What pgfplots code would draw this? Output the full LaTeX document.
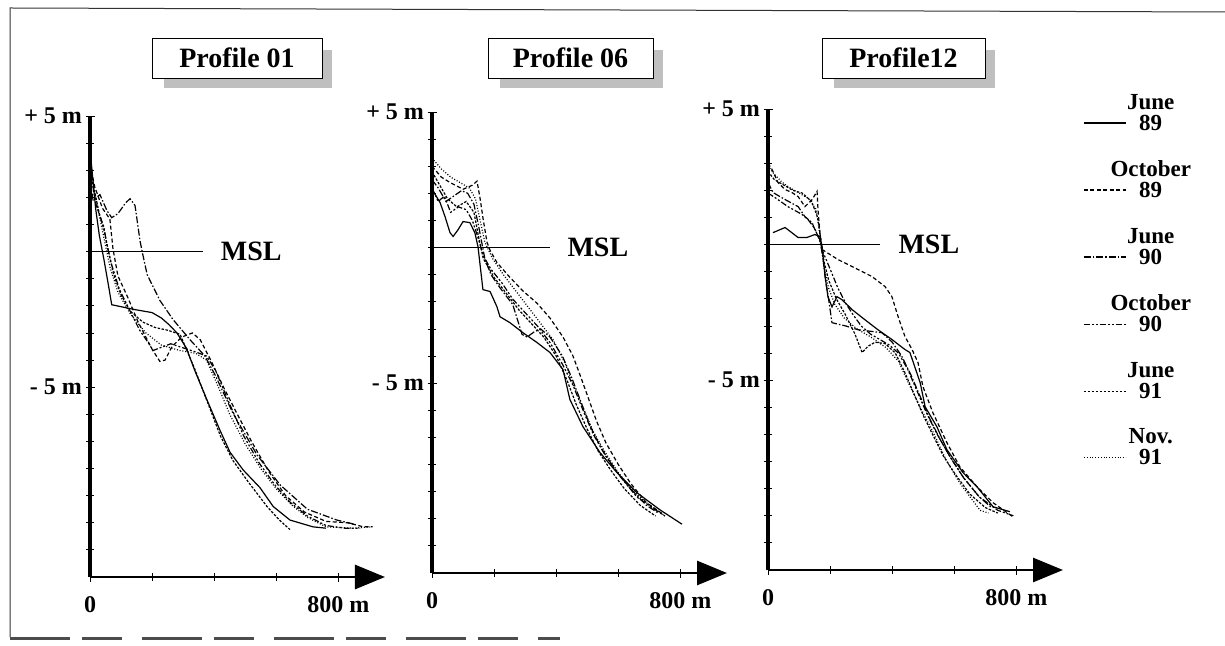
\documentclass[border=0pt]{standalone}
\usepackage{pgfplots}
\pgfplotsset{compat=1.18}
\usepackage{fontspec}
\setmainfont{Liberation Serif}
\usetikzlibrary{arrows.meta}
\pgfplotsset{
  prof/.style={
    scale only axis, width=295pt, height=461pt,
    xmin=0, xmax=950, ymin=-12, ymax=5,
    axis x line=bottom, axis y line=left,
    x axis line style={line width=2.8pt, -{Triangle[length=30pt,width=24pt]}},
    y axis line style={line width=3.2pt, -},
    xtick={0,800}, xticklabels={0,800 m},
    minor xtick={200,400,600},
    ytick={-5,5}, yticklabels={- 5 m,+ 5 m},
    minor ytick={-11,...,4},
    tick align=center,
    major tick length=9pt, minor tick length=8pt,
    tick style={black, line width=0.8pt},
    tick label style={font=\fontsize{24}{26}\selectfont\bfseries},
    xticklabel style={yshift=-12pt},
    clip=false,
    every axis plot/.append style={line width=1.2pt, black},
  },
  s1/.style={solid},
  s2/.style={dash pattern=on 4pt off 2.5pt},
  s3/.style={dash pattern=on 7pt off 2pt on 1.5pt off 2pt},
  s4/.style={dash pattern=on 6pt off 2pt on 2pt off 2pt on 2pt off 2pt},
  s5/.style={dash pattern=on 2.5pt off 1.5pt},
  s6/.style={dash pattern=on 1pt off 1.8pt},
  msl/.style={solid, line width=1.8pt, forget plot},
}
\newcommand{\lab}{\fontsize{28}{30}\selectfont\bfseries}
\begin{document}
\begin{tikzpicture}
\useasboundingbox (0pt,0pt) rectangle (1225pt,645pt);
% frame
\draw[line width=1pt, black!80] (10pt,8pt) -- (10pt,637pt) -- (1225pt,633pt);
\draw[line width=3pt, black!70, dash pattern=on 60pt off 12pt on 40pt off 20pt] (10pt,7pt) -- (560pt,7pt);
% ---------------- Profile 01
\begin{axis}[prof, at={(90pt,68pt)}, anchor=south west]
\addplot[msl] coordinates {(0,0) (365,0)};
\node[anchor=west, font=\lab] at (axis cs:410,0) {MSL};
\addplot[s1] coordinates {(0,3.8) (8,2.8) (18,1.6) (30,0.6) (45,-0.3) (58,-1.15) (70,-1.96) (145,-2.14) (200,-2.25) (230,-2.45) (255,-2.7) (280,-3.0) (310,-3.55) (338,-4.4) (376,-5.45) (419,-6.6) (451,-7.4) (493,-8.05) (547,-8.7) (590,-9.4) (644,-9.9) (718,-10.15) (760,-10.2)};
\addplot[s2] coordinates {(0,3.2) (15,2.4) (40,1.6) (64,1.2) (74,0.1) (90,-0.9) (122,-1.7) (155,-2.6) (200,-3.6) (225,-4.05) (242,-4.0) (264,-3.5) (296,-3.15) (330,-3.0) (355,-3.25) (393,-4.1) (430,-5.0) (470,-5.9) (520,-7.0) (575,-8.1) (630,-9.0) (690,-9.6) (760,-9.95) (830,-10.0) (880,-10.15) (910,-10.15)};
\addplot[s3] coordinates {(0,2.6) (10,1.9) (32,2.1) (55,1.5) (70,1.25) (90,1.4) (115,1.8) (129,1.95) (145,1.7) (161,0.4) (168,0) (184,-0.85) (225,-1.8) (267,-2.5) (322,-3.25) (370,-3.85) (403,-4.55) (460,-5.95) (538,-7.5) (612,-8.6) (700,-9.5) (795,-9.9) (850,-10.05)};
\addplot[s4] coordinates {(0,3.0) (20,1.7) (45,0.9) (55,0.2) (70,-0.5) (95,-1.4) (125,-2.1) (160,-2.9) (190,-3.4) (203,-3.65) (225,-3.55) (260,-3.4) (300,-3.55) (340,-3.7) (375,-3.85) (405,-4.4) (445,-5.5) (495,-6.8) (545,-7.8) (595,-8.6) (645,-9.25) (700,-9.75) (760,-10.1) (820,-10.2) (870,-10.2)};
\addplot[s5] coordinates {(0,3.3) (15,2.2) (30,1.4) (45,0.8) (60,0) (75,-0.8) (100,-1.6) (130,-2.2) (170,-2.6) (210,-2.8) (250,-2.9) (290,-3.05) (338,-4.35) (380,-5.6) (420,-6.8) (460,-7.7) (510,-8.5) (570,-9.4) (610,-9.9) (644,-10.25)};
\addplot[s6] coordinates {(0,3.6) (10,2.5) (25,1.6) (45,0.5) (65,-0.6) (90,-1.5) (130,-2.3) (180,-3.0) (230,-3.45) (290,-3.65) (340,-3.75) (375,-4.0) (410,-4.9) (450,-6.0) (500,-7.1) (550,-8.0) (600,-8.75) (650,-9.35) (700,-9.8) (760,-10.15) (850,-10.2) (908,-10.15)};
\end{axis}
% ---------------- Profile 06
\begin{axis}[prof, at={(432pt,72pt)}, anchor=south west]
\addplot[msl] coordinates {(0,0) (380,0)};
\node[anchor=west, font=\lab] at (axis cs:425,0) {MSL};
\addplot[s1] coordinates {(8,2.0) (26,1.66) (42,1.14) (58,0.55) (68,0.41) (84,0.66) (100,0.96) (122,0.92) (138,0.55) (148,0.04) (161,-1.25) (164,-1.55) (187,-1.62) (209,-2.18) (219,-2.55) (251,-2.77) (293,-3.14) (338,-3.5) (380,-3.87) (422,-4.5) (444,-5.6) (486,-6.6) (541,-7.56) (596,-8.3) (660,-9.04) (734,-9.67) (805,-10.2)};
\addplot[s2] coordinates {(0,3.0) (30,2.6) (58,2.4) (100,2.15) (130,2.3) (145,2.45) (155,1.8) (164,1.1) (177,0.2) (187,-0.1) (209,-0.55) (251,-1.1) (293,-1.6) (338,-2.05) (380,-2.6) (422,-3.3) (454,-4.0) (480,-4.8) (505,-5.6) (530,-6.4) (560,-7.2) (600,-8.0) (640,-8.7) (690,-9.4) (740,-9.8)};
\addplot[s3] coordinates {(0,2.5) (20,2.2) (45,1.7) (70,1.9) (95,2.1) (115,2.0) (135,1.6) (150,0.8) (160,0.2) (170,-0.4) (190,-1.0) (220,-1.5) (260,-2.1) (290,-3.2) (306,-3.3) (330,-3.1) (350,-3.0) (380,-3.3) (420,-4.0) (450,-4.8) (480,-5.7) (510,-6.6) (545,-7.4) (590,-8.2) (640,-8.9) (690,-9.5) (730,-9.8)};
\addplot[s4] coordinates {(0,2.2) (20,1.7) (40,1.9) (60,1.3) (85,1.5) (110,1.4) (130,1.0) (150,0.3) (165,-0.3) (190,-0.8) (225,-1.3) (260,-1.9) (300,-2.4) (340,-2.9) (380,-3.5) (420,-4.3) (455,-5.1) (490,-6.1) (520,-6.9) (560,-7.7) (610,-8.5) (660,-9.2) (710,-9.6) (750,-9.9)};
\addplot[s5] coordinates {(0,2.8) (25,2.3) (50,1.8) (80,1.5) (110,1.7) (135,1.3) (150,0.4) (165,-0.4) (200,-1.1) (240,-1.7) (280,-2.3) (320,-2.8) (360,-3.3) (400,-4.0) (435,-4.9) (465,-5.8) (500,-6.7) (535,-7.5) (575,-8.2) (620,-8.9) (670,-9.5) (720,-9.9)};
\addplot[s6] coordinates {(0,3.3) (30,2.9) (60,2.6) (90,2.4) (120,2.2) (140,1.8) (155,1.0) (170,0.2) (195,-0.4) (230,-1.0) (270,-1.6) (310,-2.2) (350,-2.8) (390,-3.4) (430,-4.3) (460,-5.2) (490,-6.0) (520,-6.8) (555,-7.5) (600,-8.3) (650,-9.0) (700,-9.5) (745,-9.85)};
\end{axis}
% ---------------- Profile 12
\begin{axis}[prof, at={(768pt,75pt)}, anchor=south west,
  legend style={at={(1.058,1.041)}, anchor=north west, draw=none, fill=none,
    row sep=25pt, column sep=-18pt, cells={align=center},
    font=\fontsize{23}{21}\selectfont\bfseries},
  legend image code/.code={\draw[#1] (0pt,-10pt) -- (42pt,-10pt);}]
\addplot[msl] coordinates {(0,0) (360,0)};
\node[anchor=west, font=\lab] at (axis cs:409,0) {MSL};
\addplot[s1] coordinates {(16,0.44) (55,0.63) (97,0.26) (125,0.26) (151,0.37) (167,0.3) (174,-0.07) (184,-1.18) (193,-1.92) (206,-2.3) (222,-1.92) (238,-2.03) (271,-2.4) (312,-2.77) (354,-3.14) (399,-3.5) (441,-3.87) (457,-3.98) (490,-5.09) (506,-5.98) (544,-6.72) (576,-7.56) (628,-8.41) (673,-8.93) (725,-9.67) (779,-9.85)};
\addlegendentry{June\\89}
\addplot[s2] coordinates {(0,3.0) (13,2.77) (32,2.29) (55,2.03) (77,1.92) (97,1.77) (119,1.4) (142,1.66) (158,1.96) (161,1.29) (167,0.44) (174,-0.18) (225,-0.55) (290,-0.92) (335,-1.18) (377,-1.55) (399,-1.92) (419,-2.66) (441,-3.39) (464,-3.87) (483,-4.35) (499,-5.24) (531,-6.2) (576,-7.3) (618,-8.2) (673,-8.93) (725,-9.52) (789,-10.04)};
\addlegendentry{October\\89}
\addplot[s3] coordinates {(0,2.3) (16,1.92) (55,1.66) (97,1.4) (119,1.03) (142,0.81) (151,0.55) (167,0.18) (177,-0.5) (185,-1.3) (195,-2.0) (206,-2.88) (250,-3.0) (290,-3.14) (367,-3.25) (400,-3.6) (430,-4.1) (460,-4.8) (490,-5.6) (520,-6.4) (555,-7.2) (590,-7.9) (630,-8.6) (680,-9.3) (720,-9.7)};
\addlegendentry{June\\90}
\addplot[s4] coordinates {(0,1.9) (23,1.73) (64,1.4) (110,1.11) (129,0.92) (150,0.6) (165,0.2) (178,-0.3) (200,-0.9) (225,-1.6) (252,-2.2) (275,-2.6) (300,-3.0) (330,-3.3) (360,-3.5) (390,-3.7) (420,-4.0) (450,-4.6) (480,-5.4) (510,-6.2) (545,-7.0) (585,-7.8) (630,-8.6) (680,-9.3) (740,-9.8) (790,-10.0)};
\addlegendentry{October\\90}
\addplot[s5] coordinates {(0,2.7) (20,2.4) (50,2.2) (80,2.0) (110,1.9) (140,1.6) (160,1.0) (170,0.2) (180,-0.6) (195,-1.3) (220,-2.0) (250,-2.6) (280,-3.3) (303,-3.98) (322,-3.75) (345,-3.6) (377,-3.65) (410,-4.0) (440,-4.7) (470,-5.5) (500,-6.3) (530,-7.0) (565,-7.8) (605,-8.5) (650,-9.2) (700,-9.7) (740,-9.9)};
\addlegendentry{June\\91}
\addplot[s6] coordinates {(0,2.9) (20,2.6) (45,2.3) (70,2.1) (100,1.9) (130,1.7) (155,1.3) (168,0.3) (180,-0.8) (195,-1.6) (215,-2.2) (245,-2.7) (285,-3.1) (330,-3.4) (380,-3.8) (420,-4.3) (448,-5.0) (490,-6.0) (531,-6.9) (576,-8.0) (618,-8.8) (683,-9.8) (710,-9.9)};
\addlegendentry{Nov.\\91}
\end{axis}
% ---------------- title boxes
\fill[gray!50] (164pt,557pt) rectangle (332pt,595pt);
\node[draw, fill=white, line width=0.8pt, minimum width=170pt, minimum height=40pt, inner sep=0pt, font=\lab] at (237pt,587pt) {Profile 01};
\fill[gray!50] (500pt,557pt) rectangle (663pt,595pt);
\node[draw, fill=white, line width=0.8pt, minimum width=165pt, minimum height=40pt, inner sep=0pt, font=\lab] at (570.5pt,587pt) {Profile 06};
\fill[gray!50] (834pt,557pt) rectangle (995pt,595pt);
\node[draw, fill=white, line width=0.8pt, minimum width=163pt, minimum height=40pt, inner sep=0pt, font=\lab] at (903.5pt,587pt) {Profile12};
\end{tikzpicture}
\end{document}
